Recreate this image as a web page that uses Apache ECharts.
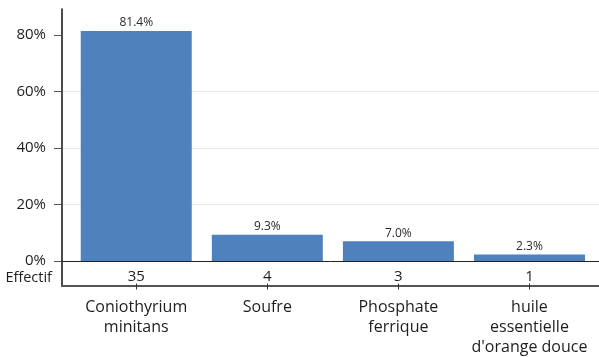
<!DOCTYPE html>
<html>
<head>
<meta charset="utf-8">
<script src="https://cdn.jsdelivr.net/npm/echarts@6/dist/echarts.min.js"></script>
<style>
  html, body { margin: 0; padding: 0; background: #fff; }
  #chart { width: 599px; height: 357px; }
</style>
</head>
<body>
<div id="chart"></div>
<script>
// Traitements utilisés (part des exploitations, en %) et effectifs
const categories = ['Coniothyrium\nminitans', 'Soufre', 'Phosphate\nferrique', 'huile\nessentielle\nd\'orange douce'];
const percentages = [81.4, 9.3, 7.0, 2.3];
const counts = [35, 4, 3, 1];
const yTicks = [0, 20, 40, 60, 80];
const rowLabel = 'Effectif';

const FONT = '"Open Sans", sans-serif';
const Y_MAX = 89.2;

const chart = echarts.init(document.getElementById('chart'), null, { renderer: 'canvas' });

chart.setOption({
  animation: false,
  backgroundColor: '#ffffff',
  textStyle: { fontFamily: FONT },
  grid: [
    // 0: bars
    { left: 70.7, right: 4, top: 9, bottom: 96, containLabel: false },
    // 1: frame, y scale and gridlines
    { left: 62, right: 0, top: 9, bottom: 96, containLabel: false },
    // 2: count row frame
    { left: 62, right: 0, top: 261, bottom: 71, containLabel: false },
    // 3: count row values and category labels
    { left: 70.7, right: 4, top: 261, bottom: 71, containLabel: false }
  ],
  xAxis: [
    { gridIndex: 0, type: 'category', data: categories, show: false },
    {
      gridIndex: 1, type: 'value', min: 0, max: 1,
      axisLine: { show: true, lineStyle: { color: '#222', width: 1 } },
      axisTick: { show: false }, axisLabel: { show: false }, splitLine: { show: false }
    },
    {
      gridIndex: 2, type: 'value', min: 0, max: 1,
      axisLine: { show: true, lineStyle: { color: '#555', width: 2 } },
      axisTick: { show: false }, axisLabel: { show: false }, splitLine: { show: false }
    },
    {
      gridIndex: 3, type: 'category', data: categories, position: 'bottom',
      axisLine: { show: false },
      axisTick: { show: true, alignWithLabel: true, length: 6, lineStyle: { color: '#333', width: 1 } },
      axisLabel: {
        show: true, interval: 0, margin: 13.5,
        fontFamily: FONT, fontSize: 16, color: '#1e1e1e', lineHeight: 20, align: 'center'
      },
      splitLine: { show: false }
    }
  ],
  yAxis: [
    { gridIndex: 0, type: 'value', min: 0, max: Y_MAX, show: false },
    {
      gridIndex: 1, type: 'value', min: 0, max: Y_MAX, interval: 20,
      axisLine: { show: true, lineStyle: { color: '#111', width: 1.5 } },
      axisTick: { show: true, length: 8, customValues: yTicks, lineStyle: { color: '#555', width: 1 } },
      axisLabel: {
        show: true, margin: 16, customValues: yTicks,
        formatter: v => v + '%',
        fontFamily: FONT, fontSize: 15, color: '#1e1e1e'
      },
      splitLine: { show: true, showMaxLine: false, lineStyle: { color: '#e8e8e8', width: 1 } }
    },
    {
      gridIndex: 2, type: 'category', data: [rowLabel],
      axisLine: { show: true, lineStyle: { color: '#111', width: 1.5 } },
      axisTick: { show: false },
      axisLabel: {
        show: true, margin: 10,
        formatter: v => '{r|' + v + '}',
        rich: { r: { fontFamily: FONT, fontSize: 14.5, color: '#1e1e1e', padding: [9, 0, 0, 0] } }
      }
    },
    { gridIndex: 3, type: 'category', data: [rowLabel], show: false }
  ],
  series: [
    {
      type: 'bar',
      xAxisIndex: 0, yAxisIndex: 0,
      data: percentages,
      barWidth: 111,
      itemStyle: { color: '#4f81bd' },
      label: {
        show: true, position: 'top', distance: 2,
        formatter: p => p.value.toFixed(1) + '%',
        fontFamily: FONT, fontSize: 12, color: '#2a2a2a'
      }
    },
    {
      type: 'scatter',
      xAxisIndex: 3, yAxisIndex: 3,
      data: counts.map((c, i) => [i, 0, c]),
      symbolSize: 1,
      itemStyle: { color: 'transparent', opacity: 1 },
      label: {
        show: true, position: 'inside', offset: [0, 4],
        formatter: p => String(p.value[2]),
        fontFamily: FONT, fontSize: 15, color: '#1e1e1e', opacity: 1
      },
      silent: true
    }
  ]
});
</script>
</body>
</html>
